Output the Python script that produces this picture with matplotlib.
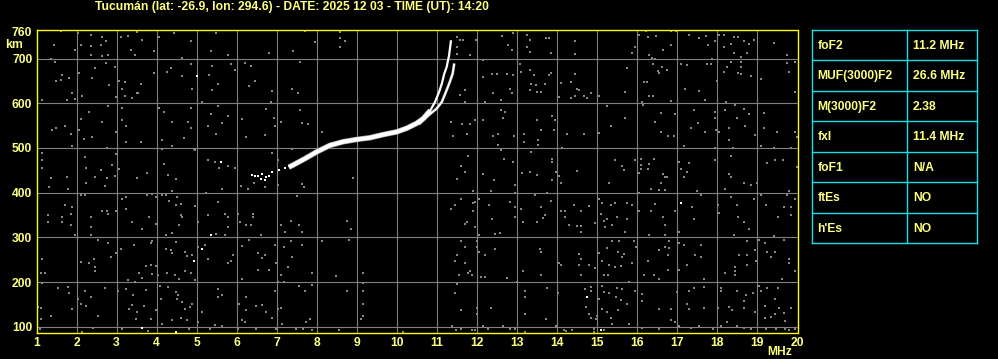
import matplotlib
matplotlib.use('Agg')
import matplotlib.pyplot as plt

# ---------------- data ----------------
title = "Tucumán (lat: -26.9, lon: 294.6) - DATE: 2025 12 03 - TIME (UT): 14:20"
freq_ticks = list(range(1, 21))
height_ticks = [100, 200, 300, 400, 500, 600, 700, 760]
grid_freqs = list(range(2, 20))
grid_heights = [100, 200, 300, 400, 500, 600, 700]

# ordinary (O) trace, MHz / km
o_f = [7.30, 7.41, 7.70, 7.99, 8.33, 8.66, 8.99, 9.33, 9.66, 9.99, 10.24, 10.49,
       10.66, 10.83, 10.95, 11.05, 11.12, 11.18, 11.24, 11.30, 11.35]
o_h = [457, 462, 476, 491, 506, 514, 519, 523, 530, 536, 544, 555,
       566, 584, 603, 625, 644, 666, 681, 707, 741]
# extraordinary (X) trace
x_f = [10.55, 10.70, 10.84, 10.99, 11.12, 11.22, 11.32, 11.39, 11.43]
x_h = [553, 566, 577, 588, 603, 625, 648, 666, 689]
# weak start of the trace
start_f = [6.39, 6.45, 6.52, 6.63, 6.73, 6.81, 6.89, 7.05, 7.20, 6.60, 6.70]
start_h = [439, 437, 438, 441, 435, 437, 447, 450, 455, 431, 429]

# isolated strong echoes
bright_f = [5.00, 5.60, 5.35, 4.94, 5.14, 3.63, 4.48, 17.09, 14.74, 15.09]
bright_h = [661, 469, 306, 248, 274, 97, 88, 377, 166, 92]

# scattered weak echoes (noise)
noise = [
 (1.60,761),(2.04,757),(2.35,752),(2.64,748),(3.29,750),(3.50,760),(3.10,748),(4.06,748),(4.43,757),
 (4.85,739),(5.48,757),(2.10,730),(2.35,728),(2.62,730),(2.74,739),(1.96,719),(2.35,707),(2.64,705),
 (2.79,707),(3.35,720),(3.46,707),(3.64,741),(3.93,717),(4.64,702),(5.35,717),(5.79,707),(6.81,713),
 (1.43,730),(1.35,700),(1.46,693),(2.74,691),(2.46,679),(2.95,681),(2.06,668),(1.64,663),(1.60,653),
 (1.81,657),(1.48,651),(2.39,657),(2.81,642),(3.06,651),(3.21,648),(3.60,643),(3.52,623),(3.93,668),
 (4.25,670),(4.35,678),(4.64,660),(4.85,687),(4.89,633),(5.39,684),(5.31,663),(5.85,687),(5.96,675),
 (6.21,691),(6.46,651),(6.89,628),(6.31,638),(6.35,684),(1.14,607),(1.77,607),(1.96,609),(1.89,622),
 (2.14,616),(2.98,614),(3.14,633),(3.21,616),(3.39,611),(3.54,623),(5.14,603),(5.39,629),(5.52,644),
 (6.85,603),(2.10,564),(2.31,581),(2.64,558),(2.79,593),(3.14,590),(3.14,562),(3.24,549),(4.06,590),
 (4.18,581),(4.39,558),(4.79,558),(4.85,544),(4.85,590),(5.29,549),(5.35,577),(5.54,593),(5.64,555),
 (5.79,571),(5.49,532),(6.14,564),(6.24,525),(6.74,587),(6.93,566),(6.96,549),(7.10,558),(6.71,529),
 (1.39,541),(1.49,545),(1.70,549),(1.85,531),(2.06,541),(2.18,519),(2.39,525),(2.98,536),(3.60,513),
 (3.23,513),(4.14,517),(4.39,504),(4.68,523),(4.93,497),(1.14,489),(1.14,473),(1.14,456),(1.89,504),
 (2.21,480),(2.23,456),(2.60,450),(2.75,499),(2.99,486),(2.88,462),(2.96,437),(2.46,435),(3.06,452),
 (3.52,433),(3.77,443),(4.14,497),(4.18,464),(4.29,439),(4.48,430),(4.96,495),(5.29,473),(5.46,469),
 (5.56,456),(5.79,459),(5.96,456),(6.89,489),(7.04,473),(1.35,433),(1.75,435),(2.75,433),
 (7.70,761),(7.95,737),(8.59,760),(8.59,745),(8.70,739),(8.59,725),(7.41,717),(7.59,692),(7.37,633),
 (7.53,622),(7.59,584),(7.64,556),(7.78,553),(8.14,536),(7.39,497),(8.89,433),
 (11.49,748),(11.58,741),(11.64,741),(11.49,726),(11.49,710),(11.83,707),(11.98,741),(12.62,750),
 (12.89,757),(13.24,752),(13.31,742),(13.24,726),(13.31,715),(12.78,730),(12.87,719),(12.16,696),
 (12.14,659),(12.37,666),(12.49,666),(12.74,666),(12.89,663),(13.06,689),(13.09,670),(13.33,674),
 (13.41,663),(13.34,644),(13.48,640),(13.49,625),(13.59,625),(13.33,629),(12.83,633),(12.87,622),
 (12.39,622),(12.59,607),(12.20,603),(11.70,629),(11.70,603),(11.58,618),(12.59,584),(12.70,581),
 (12.64,566),(13.49,562),(13.59,540),(11.95,562),(12.14,562),(11.62,553),(11.83,553),(11.74,531),
 (11.39,526),(11.34,558),(12.39,526),(12.53,531),(12.53,506),(12.59,495),(12.93,526),(13.16,531),
 (13.16,514),(13.51,517),(13.53,506),(13.34,491),(12.66,476),(12.89,469),(13.31,447),(13.49,439),
 (13.12,443),(12.14,441),(11.78,482),(11.59,459),(11.70,447),(12.41,428),(11.49,430),
 (13.72,745),(13.80,745),(13.84,713),(14.45,739),(14.45,710),(16.05,752),(16.22,761),(16.26,748),
 (16.47,750),(16.84,761),(16.97,761),(16.84,730),(16.65,720),(17.30,752),(17.55,745),(17.72,750),
 (17.76,730),(17.94,739),(18.05,752),(18.16,752),(18.41,748),(18.51,748),(18.66,739),(18.80,733),
 (18.91,742),(18.34,733),(18.16,726),(18.41,713),(18.74,713),(18.59,704),(19.41,735),(19.74,707),
 (15.94,726),(15.86,713),(16.30,707),(16.36,702),(16.44,698),(16.38,689),(16.61,681),(16.51,672),
 (16.55,668),(16.74,675),(17.08,687),(17.24,685),(17.74,689),(17.84,689),(17.86,698),(18.24,681),
 (18.34,693),(18.59,693),(18.59,681),(18.51,668),(18.59,666),(18.16,670),(18.84,660),(19.09,655),
 (19.74,690),(19.94,692),(19.80,670),(19.94,625),(13.84,668),(13.80,663),(13.70,644),(14.09,646),
 (14.34,648),(14.45,666),(14.49,633),(14.55,629),(14.34,612),(14.45,616),(14.66,616),(14.74,612),
 (14.84,622),(14.05,614),(15.05,616),(15.69,625),(15.74,679),(16.16,648),(16.24,648),(16.30,616),
 (16.38,616),(16.13,603),(16.84,605),(17.19,633),(17.55,628),(17.99,651),(17.69,607),(18.22,603),
 (13.88,571),(13.94,562),(13.91,540),(14.24,531),(14.66,531),(15.05,534),(15.24,593),(15.34,549),
 (15.69,566),(16.15,596),(16.44,558),(16.59,578),(16.59,536),(16.76,526),(16.91,526),(16.94,577),
 (17.41,584),(17.34,545),(17.51,556),(17.70,536),(17.94,581),(17.94,566),(17.97,540),(18.05,536),
 (18.18,584),(18.30,544),(18.30,517),(18.44,596),(18.49,566),(18.66,588),(18.69,549),(18.80,577),
 (18.94,529),(19.16,578),(19.16,544),(19.49,536),(19.94,536),(19.99,525),(17.94,499),(18.38,499),
 (19.09,504),(19.41,499),(19.84,499),(17.16,504),
 (13.88,476),(13.88,469),(14.13,499),(13.97,447),(14.05,437),(13.88,428),(14.49,449),(15.44,473),
 (15.63,459),(15.66,450),(15.94,473),(16.09,476),(16.09,462),(16.09,452),(16.05,444),(16.26,454),
 (16.30,464),(16.41,476),(16.63,441),(16.69,435),(16.74,434),(17.05,469),(17.09,452),(17.16,435),
 (17.24,447),(17.30,467),(17.94,473),(18.30,441),(18.34,434),(18.34,482),(19.24,467),(19.44,473),
 (19.63,473),(19.99,458),
 (1.31,412),(1.79,408),(2.23,421),(2.71,414),(2.10,395),(2.21,395),(3.14,386),(3.24,390),(3.77,395),
 (3.89,397),(3.99,390),(4.13,394),(4.23,395),(4.39,403),(4.52,390),(4.31,382),(4.49,373),(4.60,375),
 (4.96,370),(5.24,400),(5.64,408),(5.54,380),(6.10,414),(6.29,408),(6.43,421),(6.71,412),(7.04,417),
 (1.71,373),(1.89,368),(1.85,353),(1.29,350),(1.29,335),(1.64,345),(1.64,335),(1.85,328),(1.96,306),
 (2.35,345),(2.35,323),(2.35,306),(2.64,360),(2.77,358),(2.79,353),(2.99,360),(3.24,364),(3.39,335),
 (3.64,319),(3.81,345),(3.99,330),(4.60,350),(4.64,345),(4.56,328),(4.24,306),(4.39,310),(5.04,335),
 (5.29,350),(5.49,308),(5.71,353),(5.77,345),(5.79,323),(5.71,306),(6.02,353),(6.08,335),(6.24,327),
 (6.35,328),(6.41,353),(6.41,345),(6.60,306),(7.10,328),(7.21,313),
 (1.14,252),(1.10,221),(1.21,221),(1.14,198),(2.10,245),(2.31,243),(2.43,251),(2.46,233),(2.46,224),
 (2.54,295),(2.79,288),(2.85,256),(2.99,265),(3.10,274),(3.43,283),(3.29,204),(3.46,201),(3.56,221),
 (3.64,209),(3.85,288),(3.89,291),(3.73,237),(3.88,218),(3.85,239),(3.98,237),(4.04,216),(4.24,274),
 (4.35,271),(4.39,265),(4.48,289),(4.27,221),(4.46,216),(4.56,207),(4.71,267),(4.77,258),(4.89,261),
 (4.71,224),(4.85,221),(4.96,204),(5.04,278),(5.21,282),(5.27,252),(5.77,243),(5.85,248),(5.91,261),
 (6.14,280),(6.54,265),(6.71,261),(6.64,253),(6.96,283),(7.18,278),(7.10,216),(7.18,201),(7.04,201),
 (6.14,206),(6.54,228),(6.81,228),(6.99,243),(7.29,233),(6.31,295),
 (1.54,186),(1.79,189),(1.81,176),(2.21,181),(2.35,166),(2.04,161),(2.10,151),(2.23,146),(1.89,139),
 (1.10,142),(1.04,144),(1.10,118),(1.35,124),(2.54,124),(2.71,186),(3.04,181),(3.24,185),(3.41,171),
 (3.39,149),(3.31,139),(3.52,133),(3.48,117),(3.68,146),(3.74,183),(3.85,118),(3.98,137),(4.10,161),
 (4.08,191),(4.29,189),(4.14,107),(4.39,116),(4.48,178),(4.54,171),(4.52,161),(4.64,155),(4.60,119),
 (4.71,140),(4.77,114),(4.83,144),(4.89,151),(5.04,110),(5.14,133),(5.54,185),(5.52,166),(5.64,170),
 (5.63,101),(6.06,151),(6.13,116),(6.21,110),(6.24,166),(6.24,137),(6.49,146),(6.64,149),(6.74,133),
 (6.89,119),(6.96,181),(7.04,139),(7.10,142),(7.14,107),(5.33,96),(5.46,103),(6.02,96),(6.49,96),
 (6.98,96),(2.14,88),(3.14,94),(3.79,90),(4.81,94),(2.41,97),(1.08,96),
 (7.62,420),(7.68,412),(7.51,392),(7.35,336),(7.56,328),(7.64,312),(8.76,336),(8.84,319),(8.81,295),
 (7.35,291),(7.64,283),(8.14,291),(7.39,256),(7.89,221),(8.49,213),(9.14,221),(7.56,192),(7.70,181),
 (7.87,194),(8.74,179),(9.14,198),(9.14,181),(9.14,151),(9.14,124),(9.09,117),(7.84,117),(7.74,110),
 (7.49,94),(7.66,96),(7.89,93),(8.56,93),(10.14,88),
 (11.89,403),(12.34,403),(12.95,417),(12.95,400),(13.45,395),(11.59,386),(11.95,380),(11.89,377),
 (12.06,385),(11.45,373),(11.34,364),(11.89,358),(12.31,373),(12.81,380),(12.95,368),(13.09,364),
 (13.59,368),(12.95,345),(13.14,335),(13.49,334),(13.64,343),(12.37,341),(11.74,335),(11.70,330),
 (11.95,323),(12.06,306),(12.45,308),(12.56,310),(11.59,291),(11.70,278),(11.99,291),(12.01,278),
 (12.06,268),(12.20,261),(12.45,274),(11.49,261),(11.45,246),(11.70,243),(11.83,224),(11.87,216),
 (11.78,221),(11.56,216),(12.09,211),(12.20,211),(12.74,209),(13.14,224),(13.59,215),(13.56,274),
 (13.59,268),(13.00,201),(11.49,196),(11.45,176),(13.20,181),(13.20,166),(13.20,129),(12.34,142),
 (12.00,142),(12.00,129),(11.59,138),(11.37,101),(11.48,92),(11.59,96),(11.87,92),(11.95,92),
 (12.16,101),(12.28,96),(12.64,101),(12.81,96),(12.95,96),(13.20,88),
 (14.09,421),(15.30,421),(16.34,408),(16.55,407),(16.59,421),(16.69,405),(17.49,403),(18.18,408),
 (18.66,421),(18.84,417),(18.99,421),(19.80,403),(13.74,400),(13.84,382),(13.70,350),(14.09,358),
 (14.19,358),(14.19,345),(14.41,373),(14.59,358),(14.80,370),(14.30,328),(14.49,325),(14.59,325),
 (14.59,313),(14.94,332),(15.05,386),(15.11,377),(15.09,353),(15.16,336),(15.19,323),(15.24,341),
 (15.34,373),(15.44,377),(15.49,345),(15.38,328),(15.69,312),(15.74,377),(15.86,373),(15.74,341),
 (16.05,400),(16.05,358),(16.34,358),(16.44,375),(16.63,345),(16.69,328),(16.69,306),(16.94,358),
 (17.05,312),(17.36,368),(17.41,341),(17.59,395),(18.01,373),(18.05,355),(18.34,390),(18.49,373),
 (18.51,345),(18.66,335),(18.80,319),(18.91,386),(19.09,395),(19.22,373),(19.51,345),(19.66,368),
 (19.84,368),(19.84,350),(19.94,386),(19.74,395),(19.41,304),(18.41,306),(16.30,306),
 (14.55,263),(14.59,251),(14.55,239),(14.80,239),(14.94,231),(14.59,216),(14.05,243),(14.09,239),
 (15.05,265),(15.24,276),(15.38,291),(15.55,291),(15.51,267),(15.66,263),(15.61,256),(15.59,236),
 (15.91,291),(15.97,278),(15.88,243),(15.30,239),(15.44,233),(15.11,246),(15.18,216),(15.26,216),
 (15.80,201),(16.16,216),(16.26,246),(16.41,216),(16.55,271),(16.55,206),(16.69,278),(16.76,261),
 (16.80,276),(16.80,291),(16.76,228),(17.05,288),(17.16,283),(17.05,226),(17.24,239),(17.44,261),
 (17.59,256),(17.59,283),(17.66,207),(18.19,221),(18.44,233),(18.44,224),(18.44,216),(18.55,261),
 (18.74,261),(18.74,239),(18.74,291),(18.94,271),(18.97,248),(19.19,288),(19.24,267),(19.34,256),
 (19.44,267),(19.61,207),(19.80,251),(19.80,243),(19.94,224),(19.66,295),(19.05,293),
 (14.01,176),(14.69,185),(14.84,189),(14.84,179),(14.72,144),(14.80,129),(14.84,119),(14.97,118),
 (14.99,125),(15.05,163),(15.11,191),(15.16,178),(15.11,140),(15.24,133),(15.30,176),(15.34,119),
 (15.38,107),(15.47,166),(15.49,186),(15.53,137),(15.59,159),(15.61,185),(15.74,151),(15.80,107),
 (15.94,179),(16.11,174),(16.11,157),(16.55,139),(16.83,139),(16.84,116),(16.94,110),(17.00,178),
 (17.24,151),(17.30,140),(17.30,179),(17.41,186),(17.66,189),(17.66,142),(18.01,142),(18.09,186),
 (18.09,179),(18.30,144),(18.36,137),(18.24,110),(18.49,179),(18.66,142),(18.72,170),(18.66,157),
 (18.88,176),(18.94,133),(19.05,192),(19.09,181),(19.24,186),(19.19,146),(19.19,119),(19.34,122),
 (19.44,129),(19.44,163),(19.51,186),(19.55,142),(19.66,131),(19.84,142),(19.68,112),(19.47,96),
 (19.69,96),(19.80,92),(19.93,94),(14.16,92),(14.38,92),(14.22,90),(14.91,94),(14.93,88),(15.18,92),
 (16.13,97),(16.55,96),(17.05,101),(17.34,97),(17.53,101),(17.88,96),(18.09,101),(18.49,101),
 (18.66,97),(18.84,94),(19.22,94),(13.97,101),(13.72,118),(13.74,186),
]
noise_f = [p[0] for p in noise]
noise_h = [p[1] for p in noise]

table_params = ["foF2", "MUF(3000)F2", "M(3000)F2", "fxI", "foF1", "ftEs", "h'Es"]
table_values = ["11.2 MHz", "26.6 MHz", "2.38", "11.4 MHz", "N/A", "NO", "NO"]

# ---------------- style ----------------
W, H = 998, 359
TXT = '#ffff80'
YEL = '#ffff00'
GRID = '#808080'
CYAN = '#18e0e8'
FONT = 'Liberation Sans'
FS = 8.7

fig = plt.figure(figsize=(W / 100, H / 100), dpi=100, facecolor='black')
ax = fig.add_axes([36.5 / W, 26 / H, 761 / W, 303 / H], facecolor='black')
ax.set_xlim(1, 20)
ax.set_ylim(86, 764)

ax.vlines(grid_freqs, 86, 764, colors=GRID, lw=0.8, zorder=1)
ax.hlines(grid_heights, 1, 20, colors=GRID, lw=0.8, zorder=1)

ax.scatter(noise_f, noise_h, s=2.0, marker='s', color='#888888', linewidths=0, zorder=2)
ax.scatter(bright_f, bright_h, s=2.8, marker='s', color='white', linewidths=0, zorder=3)
ax.scatter(start_f, start_h, s=3.5, marker='s', color='white', linewidths=0, zorder=3)

# trace
band_f = [f for f, h in zip(o_f, o_h) if h <= 590]
band_h = [h for h in o_h if h <= 590]
ax.plot(band_f, band_h, color='#9a9a9a', lw=4.0, solid_capstyle='butt', zorder=4)
ax.plot(band_f, band_h, color='white', lw=3.0, solid_capstyle='butt', zorder=5)
ax.plot(o_f, o_h, color='white', lw=1.6, solid_capstyle='butt', zorder=5)
ax.plot(x_f, x_h, color='#9a9a9a', lw=2.0, solid_capstyle='butt', zorder=4)
ax.plot(x_f, x_h, color='white', lw=1.3, solid_capstyle='butt', zorder=5)

for s in ax.spines.values():
    s.set_color(YEL)
    s.set_linewidth(1.0)
    s.set_zorder(6)

ax.set_xticks(freq_ticks)
ax.set_xticklabels([str(v) for v in freq_ticks])
ax.set_yticks(height_ticks)
ax.set_yticklabels([str(v) for v in height_ticks])
ax.tick_params(length=0, labelcolor=TXT, labelsize=FS)
ax.tick_params(axis='x', pad=3.2)
ax.tick_params(axis='y', pad=3.0)
for lab in ax.get_xticklabels() + ax.get_yticklabels():
    lab.set_fontfamily(FONT)
    lab.set_fontweight('bold')

fig.text(292 / W, 1 - 7 / H, title, color=TXT, fontsize=FS, fontweight='bold',
         family=FONT, ha='center', va='center')
fig.text(5 / W, 1 - 45 / H, 'km', color=TXT, fontsize=FS, fontweight='bold',
         family=FONT, ha='left', va='center')
fig.text(767 / W, 1 - 352 / H, 'MHz', color=TXT, fontsize=FS, fontweight='bold',
         family=FONT, ha='left', va='center')

# parameter table
tab = fig.add_axes([812.3 / W, (H - 243.3) / H, 165 / W, 213.3 / H], facecolor='black')
tab.set_xlim(0, 1)
tab.set_ylim(len(table_params), 0)
tab.axis('off')
n = len(table_params)
for i in range(n + 1):
    tab.plot([0, 1], [i, i], color=CYAN, lw=1.0, clip_on=False)
for xv in (0, 0.576, 1):
    tab.plot([xv, xv], [0, n], color=CYAN, lw=1.0, clip_on=False)
for i, (p, v) in enumerate(zip(table_params, table_values)):
    tab.text(0.03, i + 0.52, p, color=TXT, fontsize=FS, fontweight='bold', family=FONT,
             ha='left', va='center')
    tab.text(0.61, i + 0.52, v, color=TXT, fontsize=FS, fontweight='bold', family=FONT,
             ha='left', va='center')

fig.savefig('out.png', dpi=100, facecolor='black')
